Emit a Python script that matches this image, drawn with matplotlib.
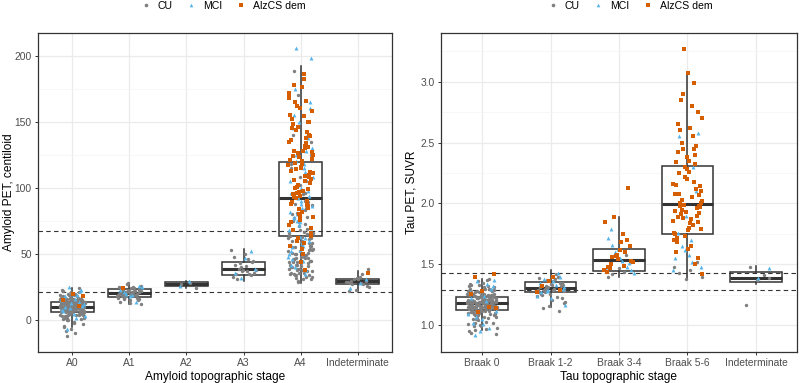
import numpy as np
import matplotlib.pyplot as plt
from matplotlib.lines import Line2D

plt.rcParams['font.family'] = ['Liberation Sans', 'DejaVu Sans']

# ---------------- amyloid panel data (centiloid) ----------------
amy_cats = ["A0", "A1", "A2", "A3", "A4", "Indeterminate"]

a0_cu = [10, 12, 8, 14, 6, 11, 9, 13, 7, 15, 10, 5, 16, 12, 9, 3, 11, 8, 18, 13, 10, 6, 14, 2, 12, 9,
         17, 11, 7, 4, 13, 10, 15, 8, 19, 12, 6, 1, 11, 14, 9, 20, 7, 13, 10, 16, 5, 12, 8, 0, 11, 14,
         9, 21, 6, 13, 10, 3, 15, 12, 7, 18, 11, 9, -1, 14, 10, 8, 16, 4, 12, 13, 6, 22, 10, 9, 2, 15,
         11, 7, 17, 12, 14, 8, -3, 10, 13, 5, 19, 11, 9, 16, 6, 12, 23, 10, 4, 14, 8, -5, 11, 13, 7, 15,
         9, 18, 12, 1, 10, 14, 6, 20, 11, 8, -7, 13, 9, 16, 5, 12, 10, 24, 7, 15, 11, -8, 14, 9, 3, 17,
         12, 10, -2, 13, 8, 21, 6, 11, -12, 15, 10, 9, 4, 12, 14, -10, 7, 16, 11, 8, 13, 0, 10, 19, -4, 12,
         9, 11, 13, 7, 10, 15, 8, 12, 5, 14, 10, 17, 6, 11, 9, 13, 2, 12, 16, 8, 10, 18, 4, 11, 14, 7]
a0_mci = [12, 5, 18, 22, 9, 15, 2, -7, 11, 20, 7, 14, 25, 3, 16, 10, 23, 13, 8, 19]
a0_dem = [18, 20, 15, 11]

a1_cu = [20, 22, 18, 24, 17, 21, 19, 25, 16, 23, 20, 14, 22, 18, 26, 21, 19, 15, 23, 20, 24, 17, 22,
         13, 21, 19, 27, 18, 20, 23, 16, 22, 25, 19, 21, 12, 24, 18, 20, 28, 17, 22, 19, 21, 15]
a1_mci = [21, 26, 18, 23, 14, 20, 25, 19]
a1_dem = [24]

a2_cu = [28, 27, 24]
a2_mci = [30, 26]
a2_dem = []

a3_cu = [38, 41, 35, 44, 37, 33, 46, 39, 36, 50, 42, 34, 40, 53, 37, 31, 45, 38, 48, 35, 43]
a3_mci = [39, 47, 36, 52, 32]
a3_dem = []

a4_cu = [32, 45, 38, 55, 41, 29, 62, 48, 35, 70, 52, 40, 85, 44, 33, 58, 75, 47, 36, 66, 90, 50, 31,
         43, 60, 78, 39, 54, 95, 46, 34, 68, 57, 105, 42, 37, 63, 80, 51, 30, 72, 49, 88, 56, 41, 115,
         65, 38, 53, 98, 44, 61, 74, 35, 83, 47, 125, 59, 40, 69, 92, 52, 36, 77, 45, 108, 64, 33, 50,
         87, 57, 140, 43, 71, 39, 96, 55, 62, 48, 118, 37, 81, 66, 155, 46, 58, 102, 42, 73, 34, 135,
         60, 51, 89, 170, 44, 67, 188, 54, 79, 36, 49, 42, 58, 31, 45, 53, 39, 64, 47, 34, 56]
a4_mci = [40, 65, 88, 52, 110, 75, 130, 45, 95, 60, 150, 82, 35, 120, 70, 100, 55, 140, 92, 48, 115,
          78, 165, 63, 105, 38, 125, 86, 58, 145, 98, 72, 50, 112, 175, 67, 90, 42, 132, 80, 108, 56,
          155, 94, 74, 122, 62, 206, 198, 85, 46, 138, 102, 68, 118, 77, 160, 53, 96, 128]
a4_dem = [120, 95, 150, 80, 135, 105, 165, 70, 115, 88, 142, 60, 125, 98, 178, 110, 76, 155, 130, 92,
          66, 118, 145, 85, 102, 172, 58, 128, 112, 160, 74, 138, 96, 122, 50, 148, 108, 84, 168, 132,
          100, 64, 116, 152, 90, 126, 78, 182, 106, 140, 94, 56, 134, 114, 158, 82, 124, 99, 146, 72,
          186, 119, 104, 44, 136, 87, 162, 111, 128, 68, 150, 97, 121, 38, 144, 107, 176, 89, 131, 62,
          117, 154, 93, 139, 79, 113, 166, 101, 127, 54, 148, 86, 123, 170, 109]

ai_cu = [28, 30, 26, 32, 29, 27, 31, 25, 33, 28, 30, 23, 29, 35, 27, 39, 31, 22]
ai_mci = [28, 24, 31]
ai_dem = [36]

amy_cu = [a0_cu, a1_cu, a2_cu, a3_cu, a4_cu, ai_cu]
amy_mci = [a0_mci, a1_mci, a2_mci, a3_mci, a4_mci, ai_mci]
amy_dem = [a0_dem, a1_dem, a2_dem, a3_dem, a4_dem, ai_dem]

# box stats: q1, median, q3, whisker low, whisker high
amy_q1 = [6, 17.7, 26, 34.5, 64, 27]
amy_med = [10.2, 20.7, 27.5, 38.7, 92, 29.4]
amy_q3 = [14, 23.7, 29, 44, 119.3, 31.5]
amy_wlo = [-5, 12, 24, 30, 28, 22]
amy_whi = [24, 28, 30, 54, 192, 37]
amy_cutoffs = [21.5, 67.5]

# ---------------- tau panel data (SUVR) ----------------
tau_cats = ["Braak 0", "Braak 1-2", "Braak 3-4", "Braak 5-6", "Indeterminate"]

b0_cu = [1.18, 1.21, 1.15, 1.24, 1.12, 1.19, 1.16, 1.22, 1.10, 1.26, 1.17, 1.20, 1.13, 1.28, 1.18,
         1.08, 1.23, 1.15, 1.19, 1.30, 1.11, 1.21, 1.17, 1.05, 1.25, 1.14, 1.20, 1.32, 1.16, 1.09, 1.22,
         1.18, 1.13, 1.27, 1.19, 1.03, 1.24, 1.15, 1.21, 1.34, 1.12, 1.17, 1.20, 1.07, 1.26, 1.16, 1.23,
         1.01, 1.19, 1.14, 1.29, 1.18, 1.11, 1.22, 1.36, 1.15, 1.20, 0.99, 1.17, 1.25, 1.13, 1.21, 1.06,
         1.19, 1.31, 1.16, 1.23, 1.10, 1.18, 0.97, 1.27, 1.14, 1.20, 1.33, 1.17, 1.04, 1.22, 1.15, 1.19,
         1.28, 1.12, 0.95, 1.24, 1.18, 1.16, 1.35, 1.21, 1.09, 1.17, 1.26, 1.13, 1.20, 1.02, 1.19, 1.30,
         1.15, 1.23, 0.93, 1.18, 1.11, 1.25, 1.16, 1.21, 1.37, 1.14, 1.08, 1.19, 1.27, 1.17, 1.22, 0.98,
         1.12, 1.24, 1.18, 1.15, 1.32, 1.20, 1.05, 1.16, 1.23, 1.13, 1.29, 1.19, 1.10, 1.21, 0.96, 1.17,
         1.26, 1.14, 1.38, 1.22, 1.07, 1.18, 1.15, 1.20, 1.00, 1.25, 1.16, 1.12, 1.31, 1.19, 0.94, 1.23,
         1.17, 1.13, 1.21, 1.09, 1.24, 1.16, 1.19, 1.06, 1.28, 1.14, 1.22, 1.11, 1.18, 1.33, 1.15, 1.20,
         1.02, 1.26, 1.12, 1.17, 1.23, 1.08, 1.19, 1.30, 1.14, 1.21, 0.99, 1.16, 1.25, 1.18]
b0_mci = [1.20, 0.92, 1.32, 1.05, 1.27, 0.98, 1.36, 1.12, 1.24, 1.02, 1.30, 0.95, 1.09, 1.34, 1.07,
          1.37, 1.01, 1.22]
b0_dem = [1.40, 1.42, 1.28, 1.26, 1.15, 1.11, 1.14]

b12_cu = [1.30, 1.28, 1.33, 1.26, 1.35, 1.31, 1.24, 1.38, 1.29, 1.22, 1.34, 1.27, 1.40, 1.30, 1.19,
          1.36, 1.25, 1.32, 1.16, 1.29, 1.42, 1.27, 1.33, 1.21, 1.31, 1.12, 1.37, 1.28, 1.30, 1.14,
          1.35, 1.26, 1.39, 1.23, 1.32, 1.18, 1.29]
b12_mci = [1.31, 1.36, 1.27, 1.40, 1.29, 1.24, 1.33, 1.38, 1.30, 1.22, 1.35, 1.43, 1.28, 1.17]
b12_dem = [1.40, 1.32, 1.29, 1.36, 1.27]

b34_cu = [1.44, 1.42, 1.52, 1.47, 1.40, 1.58]
b34_mci = [1.66, 1.45, 1.55, 1.72, 1.48, 1.60, 1.43, 1.53, 1.79, 1.51, 1.63, 1.46]
b34_dem = [1.53, 1.62, 1.48, 1.70, 1.57, 1.45, 1.75, 1.50, 1.65, 1.54, 1.44, 1.60, 1.89, 1.52, 1.68,
           1.47, 2.13, 1.58, 1.85, 1.49, 1.56]

b56_cu = [1.40, 1.45, 1.43, 1.52, 1.38, 1.48]
b56_mci = [1.70, 2.55, 2.58, 1.90, 1.55, 2.30, 1.65, 1.48, 1.58, 1.76, 2.10, 1.62, 1.45, 1.52]
b56_dem = [2.00, 1.85, 2.20, 1.75, 2.45, 1.95, 2.10, 1.80, 2.65, 1.90, 2.30, 1.70, 2.05, 2.85, 1.98,
           1.78, 2.15, 2.40, 1.88, 2.02, 1.65, 2.25, 2.75, 1.93, 2.08, 1.82, 2.50, 1.97, 2.35, 1.72,
           2.12, 3.27, 1.86, 2.05, 2.60, 1.92, 2.28, 1.60, 2.18, 2.90, 2.00, 1.84, 2.42, 1.96, 2.22,
           1.76, 2.55, 1.91, 2.14, 3.07, 1.68, 2.32, 1.99, 2.70, 1.87, 2.08, 1.55, 2.38, 1.94, 2.99,
           2.03, 1.79, 2.26, 1.89, 2.47, 1.73, 2.16, 2.80, 1.98, 2.07, 1.63, 2.34, 1.50, 2.45, 1.42, 2.62]

bi_cu = [1.48, 1.39, 1.37, 1.17, 1.41]
bi_mci = [1.47, 1.39]
bi_dem = []

tau_cu = [b0_cu, b12_cu, b34_cu, b56_cu, bi_cu]
tau_mci = [b0_mci, b12_mci, b34_mci, b56_mci, bi_mci]
tau_dem = [b0_dem, b12_dem, b34_dem, b56_dem, bi_dem]

tau_q1 = [1.127, 1.271, 1.446, 1.749, 1.357]
tau_med = [1.184, 1.303, 1.533, 1.993, 1.39]
tau_q3 = [1.23, 1.352, 1.63, 2.311, 1.44]
tau_wlo = [0.96, 1.15, 1.40, 1.38, 1.34]
tau_whi = [1.38, 1.45, 1.89, 3.07, 1.49]
tau_cutoffs = [1.29, 1.43]

groups = ["CU", "MCI", "AlzCS dem"]
colors = {"CU": "#7F7F7F", "MCI": "#56B4E9", "AlzCS dem": "#D55E00"}
markers = {"CU": "o", "MCI": "^", "AlzCS dem": "s"}
sizes = {"CU": 6, "MCI": 8, "AlzCS dem": 7.5}


def jitter(n, seed_shift, width=0.22):
    # deterministic spread, just to scatter points sideways
    k = np.arange(n) + seed_shift
    return ((k * 0.6180339887) % 1 - 0.5) * 2 * width


def draw_panel(ax, cats, cu, mci, dem, q1, med, q3, wlo, whi, cutoffs):
    pos = np.arange(1, len(cats) + 1)
    stats = [dict(q1=a, med=m, q3=b, whislo=lo, whishi=hi, fliers=[])
             for a, m, b, lo, hi in zip(q1, med, q3, wlo, whi)]
    ax.bxp(stats, positions=pos, widths=0.75, showcaps=False, patch_artist=True,
           boxprops=dict(facecolor="white", edgecolor="#333333", linewidth=1.1),
           medianprops=dict(color="#333333", linewidth=2.2),
           whiskerprops=dict(color="#333333", linewidth=1.1), zorder=2)
    for c in cutoffs:
        ax.axhline(c, color="#333333", ls=(0, (4, 3)), lw=0.8, zorder=2.5)
    shift = 0
    for g, data in zip(groups, [cu, mci, dem]):
        for i, vals in enumerate(data):
            if not vals:
                continue
            x = pos[i] + jitter(len(vals), shift)
            shift += 7
            ax.scatter(x, vals, s=sizes[g], marker=markers[g], color=colors[g],
                       linewidths=0, zorder=3)
    ax.set_xticks(pos)
    ax.set_xticklabels(cats)
    ax.set_xlim(0.4, len(cats) + 0.6)
    ax.grid(True, which="major", color="#EBEBEB", lw=0.9, zorder=0)
    ax.grid(True, which="minor", axis="y", color="#F4F4F4", lw=0.5, zorder=0)
    ax.set_axisbelow(True)
    for s in ax.spines.values():
        s.set_color("#333333")
        s.set_linewidth(0.9)
    ax.tick_params(which="major", color="#333333", length=2.5, width=0.7,
                   labelcolor="#4D4D4D", labelsize=7.4, pad=2)
    ax.tick_params(which="minor", length=0)


fig = plt.figure(figsize=(8, 3.83), dpi=100)
ax1 = fig.add_axes([38 / 800, 31 / 383, 354 / 800, 319 / 383])
ax2 = fig.add_axes([441 / 800, 31 / 383, 356 / 800, 319 / 383])

draw_panel(ax1, amy_cats, amy_cu, amy_mci, amy_dem, amy_q1, amy_med, amy_q3, amy_wlo, amy_whi, amy_cutoffs)
ax1.set_ylim(-24, 217)
ax1.set_yticks([0, 50, 100, 150, 200])
ax1.set_yticks([25, 75, 125, 175], minor=True)
ax1.set_ylabel("Amyloid PET, centiloid", fontsize=8.6)
ax1.yaxis.set_label_coords(-0.066, 0.5)
ax1.set_xlabel("Amyloid topographic stage", fontsize=8.6, labelpad=2)

draw_panel(ax2, tau_cats, tau_cu, tau_mci, tau_dem, tau_q1, tau_med, tau_q3, tau_wlo, tau_whi, tau_cutoffs)
ax2.set_ylim(0.78, 3.40)
ax2.set_yticks([1.0, 1.5, 2.0, 2.5, 3.0])
ax2.set_yticks([1.25, 1.75, 2.25, 2.75, 3.25], minor=True)
ax2.set_yticklabels(["1.0", "1.5", "2.0", "2.5", "3.0"])
ax2.set_ylabel("Tau PET, SUVR", fontsize=8.6)
ax2.yaxis.set_label_coords(-0.065, 0.5)
ax2.set_xlabel("Tau topographic stage", fontsize=8.6, labelpad=2)

handles = [Line2D([], [], ls="none", marker=markers[g], color=colors[g], markersize=2.6,
                  markeredgewidth=0) for g in groups]
for cx in [223 / 800, 630 / 800]:
    fig.legend(handles, groups, loc="center", bbox_to_anchor=(cx, 1 - 6 / 383), ncol=3,
               frameon=False, fontsize=7.6, handlelength=1.0, handletextpad=0.6,
               columnspacing=1.3, borderpad=0)

fig.savefig("out.png", dpi=100)
